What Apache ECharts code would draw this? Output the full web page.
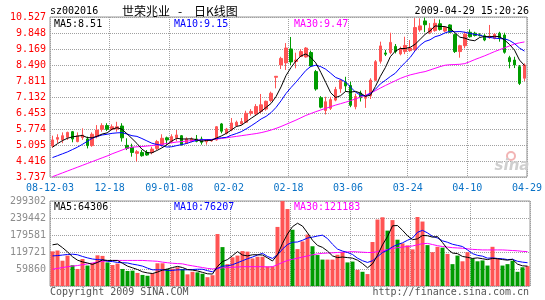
<!DOCTYPE html>
<html><head><meta charset="utf-8">
<script src="https://cdn.jsdelivr.net/npm/echarts@6/dist/echarts.min.js"></script>
<style>html,body{margin:0;padding:0;background:#fff}#c{width:545px;height:300px}</style>
</head><body><div id="c"></div>
<script>
// ---- data ----
const dateTicks = ['08-12-03','12-18','09-01-08','02-02','02-18','03-06','03-24','04-10','04-29'];
const priceTicks = ['3.737','4.416','5.095','5.774','6.453','7.132','7.811','8.490','9.169','9.848','10.527'];
const volTicks = ['','59860','119721','179581','239442','299302'];

const open = [5.05,5.34,5.31,5.42,5.66,5.24,5.41,5.35,5.07,5.45,5.76,5.92,5.76,5.77,5.90,5.08,5.00,4.74,4.78,4.78,
4.78,4.95,5.10,5.40,5.24,5.40,5.49,5.16,5.25,5.35,5.35,5.23,5.27,5.31,5.99,5.59,5.73,5.92,5.99,6.06,
6.44,6.41,6.52,6.62,6.98,7.97,8.49,8.58,9.17,8.64,8.85,8.83,9.02,8.21,7.10,6.56,6.65,7.00,7.48,7.75,
7.62,6.72,7.30,7.08,7.18,7.84,8.65,9.00,9.02,9.28,8.96,9.06,9.10,9.13,9.98,10.36,9.88,9.95,10.24,9.93,
10.19,9.78,9.06,9.31,9.88,9.84,9.76,9.73,9.65,9.62,9.84,9.76,8.80,8.70,8.42,7.93];
const high = [5.49,5.55,5.63,5.66,5.69,5.63,5.80,5.45,5.63,5.94,6.02,6.02,5.97,6.08,6.02,5.38,5.15,4.88,4.88,4.88,
5.02,5.31,5.55,5.45,5.55,5.73,5.52,5.42,5.42,5.52,5.45,5.35,5.35,5.90,6.03,5.82,6.24,6.13,6.24,6.55,
6.62,6.83,7.26,6.98,7.36,8.02,8.84,9.42,9.68,9.01,9.16,9.25,9.10,8.28,7.17,7.14,7.14,7.56,7.90,7.99,
7.78,7.27,7.40,7.43,7.93,8.70,9.48,9.13,9.86,9.38,9.27,9.69,9.55,10.48,10.47,10.50,10.27,10.45,10.42,10.10,
10.22,9.82,9.35,9.90,10.00,9.90,9.84,9.80,10.19,9.84,9.90,9.86,8.88,8.84,8.49,8.56];
const low = [4.98,5.17,5.17,5.31,5.21,5.21,5.31,4.95,5.02,5.38,5.66,5.69,5.72,5.66,5.24,4.88,4.60,4.39,4.60,4.64,
4.70,4.88,5.02,5.10,5.17,5.25,5.07,5.14,5.21,5.21,5.11,5.11,5.23,5.28,5.59,5.54,5.68,5.87,5.96,6.03,
6.34,6.37,6.44,6.55,6.91,7.50,8.32,8.28,8.49,8.35,8.83,8.80,8.40,7.40,6.65,6.39,6.58,6.95,7.31,7.36,
6.70,6.61,6.94,6.67,7.05,7.80,8.55,8.87,8.95,8.98,8.90,8.95,9.05,9.10,9.90,9.88,9.80,9.90,9.95,9.88,
9.85,9.00,8.80,9.20,9.65,9.70,9.70,9.50,9.60,9.58,9.48,8.97,8.35,8.36,7.64,7.81];
const close = [5.31,5.41,5.49,5.63,5.35,5.49,5.52,5.07,5.55,5.73,5.92,5.76,5.87,5.87,5.40,4.95,4.78,4.81,4.64,4.67,
4.92,5.24,5.38,5.31,5.45,5.52,5.11,5.35,5.35,5.25,5.21,5.31,5.31,5.87,5.68,5.77,6.03,6.06,6.09,6.44,
6.52,6.73,6.80,6.95,7.29,8.01,8.77,9.21,8.62,8.70,9.06,9.21,8.45,7.47,6.70,6.93,7.02,7.45,7.85,7.60,
6.78,7.15,7.10,7.15,7.85,8.63,9.30,8.95,9.45,9.06,9.18,9.32,9.21,10.08,10.15,10.20,10.05,10.26,10.00,10.08,
9.88,9.06,9.31,9.80,9.69,9.74,9.74,9.55,9.72,9.79,9.65,9.03,8.63,8.49,7.71,8.49];

const ma5 = [5.00,5.15,5.28,5.38,5.44,5.47,5.50,5.41,5.40,5.47,5.56,5.61,5.77,5.83,5.76,5.57,5.37,5.16,4.92,4.77,
4.76,4.86,4.97,5.10,5.26,5.38,5.35,5.35,5.36,5.32,5.25,5.29,5.29,5.39,5.48,5.59,5.73,5.88,5.93,6.08,
6.23,6.37,6.52,6.69,6.86,7.15,7.56,8.04,8.38,8.66,8.87,8.96,8.81,8.58,8.18,7.75,7.31,7.11,7.19,7.37,
7.34,7.37,7.30,7.16,7.21,7.58,8.01,8.38,8.84,9.08,9.19,9.19,9.24,9.37,9.58,9.79,9.94,10.15,10.13,10.12,
10.05,9.86,9.67,9.63,9.55,9.52,9.66,9.70,9.69,9.71,9.69,9.55,9.36,9.12,8.70,8.47];
const ma10 = [4.56,4.64,4.72,4.80,4.90,5.00,5.12,5.25,5.38,5.46,5.52,5.55,5.59,5.61,5.62,5.56,5.49,5.46,5.37,5.27,
5.17,5.12,5.07,5.01,5.02,5.07,5.11,5.16,5.23,5.29,5.32,5.32,5.32,5.37,5.40,5.42,5.51,5.58,5.66,5.78,
5.91,6.05,6.20,6.31,6.47,6.69,6.97,7.28,7.53,7.76,8.01,8.26,8.43,8.48,8.42,8.31,8.14,7.96,7.88,7.77,
7.55,7.34,7.21,7.17,7.29,7.46,7.69,7.84,8.00,8.14,8.38,8.60,8.81,9.10,9.33,9.49,9.56,9.69,9.75,9.85,
9.92,9.90,9.91,9.88,9.83,9.79,9.76,9.69,9.66,9.63,9.61,9.60,9.53,9.40,9.21,9.08];
const ma30 = [3.75,3.83,3.91,3.99,4.07,4.15,4.23,4.31,4.39,4.47,4.55,4.63,4.72,4.80,4.88,4.96,5.00,5.02,5.03,5.05,
5.07,5.10,5.13,5.16,5.19,5.22,5.24,5.26,5.28,5.30,5.31,5.32,5.33,5.35,5.37,5.40,5.43,5.46,5.49,5.52,
5.55,5.58,5.62,5.67,5.73,5.80,5.88,5.97,6.06,6.15,6.25,6.35,6.43,6.51,6.58,6.65,6.72,6.79,6.85,6.91,
6.98,7.05,7.13,7.21,7.30,7.40,7.51,7.62,7.72,7.82,7.92,8.00,8.07,8.12,8.17,8.21,8.28,8.35,8.42,8.48,
8.50,8.51,8.52,8.55,8.63,8.72,8.80,8.88,8.97,9.06,9.14,9.22,9.30,9.38,9.43,9.47];

const volume = [122000,125000,89000,107000,73000,60000,95000,72000,81000,108000,106000,83000,74000,79000,60000,53000,54000,46000,39000,36000,
45000,80000,80000,60000,61000,66000,60000,41000,50000,48000,43000,31000,38000,183000,137000,77000,101000,107000,123000,121000,
97000,103000,103000,69000,69000,208000,299000,271000,198000,130000,157000,181000,140000,109000,93000,93000,93000,110000,120000,83000,
86000,57000,50000,42000,155000,234000,242000,195000,232000,163000,150000,143000,129000,243000,227000,144000,119000,138000,135000,113000,
77000,107000,87000,119000,97000,87000,90000,72000,138000,95000,72000,77000,89000,50000,66000,70000];
const volMa5 = [145,148,135,120,103,91,85,81,76,83,92,90,90,90,80,70,64,58,50,46,
44,49,56,60,65,69,65,58,56,53,48,43,42,69,86,93,107,121,109,106,
110,110,109,99,88,110,150,183,209,221,211,187,161,143,136,123,106,100,102,100,
98,91,79,64,78,108,145,174,212,213,196,177,163,166,178,177,172,174,153,130,
116,114,104,101,97,99,96,93,97,96,93,91,94,77,71,70];
const volMa10 = [106,107,109,111,112,110,104,99,95,93,92,87,86,83,82,81,77,74,70,63,
57,57,57,55,55,57,57,57,58,59,59,54,50,62,70,71,75,82,89,96,
102,109,115,104,97,110,130,146,154,155,161,169,172,176,179,167,147,130,123,118,
111,98,89,83,89,103,118,126,138,146,152,161,169,189,196,187,175,169,159,154,
147,143,139,127,114,108,105,98,99,97,96,93,94,87,84,82];
const volMa30 = [59,62,65,68,70,72,75,78,81,84,87,89,90,90,90,90,90,90,90,89,
88,87,84,82,80,79,78,74,71,68,65,62,60,62,64,65,66,67,68,68,
68,68,68,67,68,75,83,90,94,98,102,106,110,113,115,116,117,118,119,120,
121,120,119,118,118,121,124,128,132,135,137,139,141,145,149,150,146,142,139,137,
135,134,133,131,129,128,127,127,127,127,127,126,125,124,122,121];

// ---- chart ----
const chart = echarts.init(document.getElementById('c'), null, {width: 545, height: 300});
const categories = close.map((_, i) => String(i));
const up = '#ff5454', down = '#009c00';
const candleData = close.map((c, i) => [open[i], c, low[i], high[i]]);
const volData = volume.map((v, i) => ({value: v, itemStyle: {color: close[i] >= open[i] ? up : down}}));
const k = a => a.map(v => v * 1000);
const mono = 'DejaVu Sans Mono';
const dotted = {show: true, lineStyle: {color: '#a0a0a0', type: [1, 1], width: 1}};
const noLine = {show: false};

function txt(x, y, s, color, opts) {
  opts = opts || {};
  return {type: 'text', x: x, y: y, z: 100, silent: true,
    style: {text: s, fill: color, font: opts.font || ('10px ' + mono),
      align: opts.align || 'left', verticalAlign: 'middle',
      textAlign: opts.align || 'left', textVerticalAlign: 'middle'}};
}
function lineS(data, color, xi, yi) {
  return {type: 'line', data: data, xAxisIndex: xi, yAxisIndex: yi, symbol: 'none', z: 5,
    lineStyle: {color: color, width: 1}, itemStyle: {color: color}, animation: false};
}

chart.setOption({
  animation: false,
  backgroundColor: '#ffffff',
  grid: [
    {left: 50, top: 17, width: 480, height: 160, show: true, borderColor: '#999', borderWidth: 1, backgroundColor: '#fff'},
    {left: 50, top: 201, width: 480, height: 85, show: true, borderColor: '#999', borderWidth: 1, backgroundColor: '#fff'}
  ],
  xAxis: [
    {type: 'category', gridIndex: 0, data: categories, show: false, position: 'top'},
    {type: 'value', gridIndex: 0, min: 0, max: 8, interval: 1, position: 'bottom', axisLine: noLine, axisTick: noLine,
      splitLine: dotted,
      axisLabel: {color: '#0a72c6', fontFamily: mono, fontSize: 10, margin: 6, formatter: v => dateTicks[v] || ''}},
    {type: 'category', gridIndex: 1, data: categories, show: false, position: 'top'},
    {type: 'value', gridIndex: 1, min: 0, max: 8, interval: 1, position: 'bottom', axisLine: noLine, axisTick: noLine,
      splitLine: dotted, axisLabel: {show: false}}
  ],
  yAxis: [
    {type: 'value', gridIndex: 0, position: 'right', min: parseFloat(priceTicks[0]), max: parseFloat(priceTicks[priceTicks.length - 1]), show: false},
    {type: 'value', gridIndex: 0, position: 'left', min: 0, max: priceTicks.length - 1, interval: 1, axisLine: noLine, axisTick: noLine,
      splitLine: dotted,
      axisLabel: {color: '#ff0000', fontFamily: mono, fontSize: 10, margin: 4, formatter: v => priceTicks[v] || ''}},
    {type: 'value', gridIndex: 1, position: 'right', min: 0, max: parseFloat(volTicks[volTicks.length - 1]), show: false},
    {type: 'value', gridIndex: 1, position: 'left', min: 0, max: volTicks.length - 1, interval: 1, axisLine: noLine, axisTick: noLine,
      splitLine: dotted,
      axisLabel: {color: '#8c8c8c', fontFamily: mono, fontSize: 10, margin: 4, formatter: v => volTicks[v] || ''}}
  ],
  series: [
    {type: 'candlestick', xAxisIndex: 0, yAxisIndex: 0, data: candleData, barWidth: 3, z: 3,
      itemStyle: {color: up, color0: down, borderColor: up, borderColor0: down, borderWidth: 1}},
    lineS(ma30, '#ff00ff', 0, 0),
    lineS(ma10, '#0000ff', 0, 0),
    lineS(ma5, '#000000', 0, 0),
    {type: 'bar', xAxisIndex: 2, yAxisIndex: 2, data: volData, barWidth: 4, z: 3},
    lineS(k(volMa30), '#ff00ff', 2, 2),
    lineS(k(volMa10), '#0000ff', 2, 2),
    lineS(k(volMa5), '#000000', 2, 2)
  ],
  graphic: [
    txt(50, 11, 'sz002016', '#000'),
    txt(122, 11, '世荣兆业', '#000', {font: '12px "Noto Sans CJK SC"'}),
    txt(180, 11, '-', '#000', {font: '12px "Noto Sans CJK SC"', align: 'center'}),
    txt(194, 11, '日K线图', '#000', {font: '12px "Noto Sans CJK SC"'}),
    txt(529, 11, '2009-04-29 15:20:26', '#000', {align: 'right'}),
    txt(54, 24, 'MA5:8.51', '#000'),
    txt(174, 24, 'MA10:9.15', '#0000ff'),
    txt(294, 24, 'MA30:9.47', '#ff00ff'),
    txt(54, 207, 'MA5:64306', '#000'),
    txt(174, 207, 'MA10:76207', '#0000ff'),
    txt(294, 207, 'MA30:121183', '#ff00ff'),
    txt(50, 292, 'Copyright 2009 SINA.COM', '#555'),
    txt(529, 292, 'http://finance.sina.com.cn', '#555', {align: 'right'}),
    {type: 'circle', z: 1, silent: true, shape: {cx: 511, cy: 156, r: 4}, style: {fill: 'none', stroke: '#f2b4b4', lineWidth: 2}},
    txt(512, 166, 'sina', '#cfcfcf', {font: 'italic bold 15px "DejaVu Sans"', align: 'center'})
  ]
});
</script>
</body></html>
